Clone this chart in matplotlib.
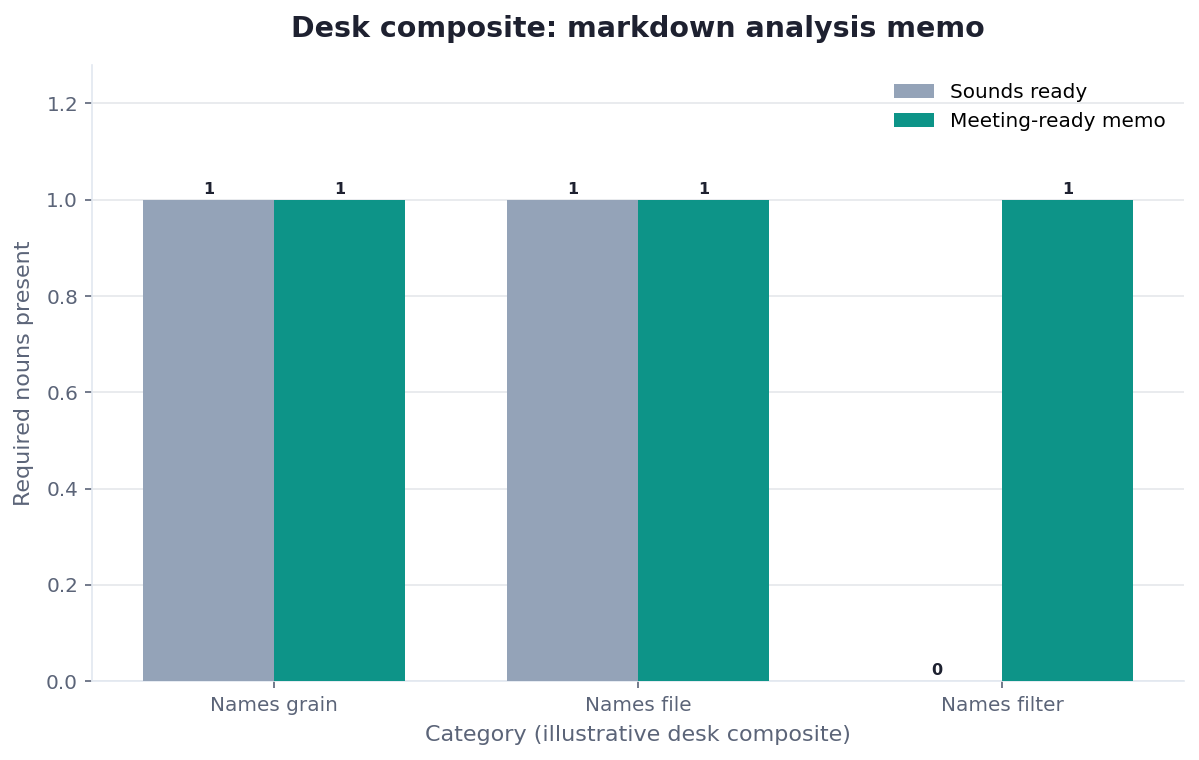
import matplotlib
matplotlib.use("Agg")
import matplotlib.pyplot as plt
import numpy as np

plt.rcParams["font.family"] = ["DejaVu Sans"]

categories = ["Names grain", "Names file", "Names filter"]
series_names = ["Sounds ready", "Meeting-ready memo"]
sounds_ready = [1, 1, 0]
meeting_ready = [1, 1, 1]
yticks = [0.0, 0.2, 0.4, 0.6, 0.8, 1.0, 1.2]

colors = ["#94A3B8", "#0D9488"]
text_dark = "#1E2130"
tick_color = "#5B6478"
spine_color = "#E2E8F0"

fig = plt.figure(figsize=(11.99, 7.6), dpi=100)
ax = fig.add_axes([0.0767, 0.1039, 0.9108, 0.8106])

x = np.arange(len(categories))
w = 0.36
b1 = ax.bar(x - w / 2, sounds_ready, w, color=colors[0], label=series_names[0], zorder=3)
b2 = ax.bar(x + w / 2, meeting_ready, w, color=colors[1], label=series_names[1], zorder=3)

for bars, vals in ((b1, sounds_ready), (b2, meeting_ready)):
    for rect, v in zip(bars, vals):
        ax.annotate(f"{v}", (rect.get_x() + rect.get_width() / 2, v),
                    xytext=(0, 2), textcoords="offset points",
                    ha="center", va="bottom", fontsize=11.5, fontweight="bold",
                    color=text_dark)

ax.set_xlim(-0.5, 2.5)
ax.set_ylim(0, 1.28)
ax.set_yticks(yticks)
ax.set_yticklabels([f"{t:.1f}" for t in yticks])
ax.set_xticks(x)
ax.set_xticklabels(categories)

ax.grid(axis="y", color="#E5E7EB", linewidth=1.2, zorder=0)
ax.set_axisbelow(True)
for s in ("top", "right"):
    ax.spines[s].set_visible(False)
for s in ("left", "bottom"):
    ax.spines[s].set_color(spine_color)
    ax.spines[s].set_linewidth(1.2)
ax.tick_params(axis="both", colors=tick_color, labelsize=14.4, length=5, width=1.2)
ax.tick_params(axis="x", pad=6)
ax.tick_params(axis="y", pad=5)

ax.set_title("Desk composite: markdown analysis memo", fontsize=20.5, fontweight="bold",
             color=text_dark, pad=20)
ax.set_xlabel("Category (illustrative desk composite)", fontsize=16, color=tick_color,
              labelpad=7)
ax.set_ylabel("Required nouns present", fontsize=16, color=tick_color, labelpad=9)

leg = ax.legend(loc="upper right", frameon=False, fontsize=14.4, handlelength=2.0,
                handleheight=0.7, labelspacing=0.5)

fig.savefig("out.png", dpi=100)
